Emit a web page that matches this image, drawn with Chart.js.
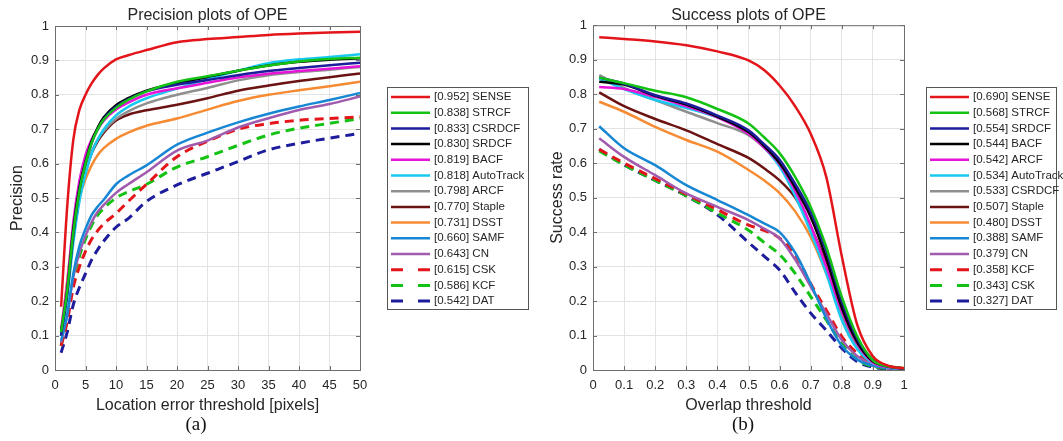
<!DOCTYPE html>
<html lang="en">
<head>
<meta charset="UTF-8">
<title>Precision and success plots of OPE</title>
<script src="https://cdn.jsdelivr.net/npm/chart.js"></script>
<style>
  body { margin: 0; background: #fff; }
  .panel { position: absolute; top: 0; height: 441px; }
  #leftPanel { left: 0; width: 531px; }
  #rightPanel { left: 531px; width: 532px; }
  .tag {
    position: absolute; top: 413px; width: 60px; text-align: center;
    font-family: "Liberation Serif", "Times New Roman", serif;
    font-size: 19px; line-height: 22px; color: #111;
  }
</style>
</head>
<body>
<div class="panel" id="leftPanel"><canvas id="precChart" width="531" height="441"></canvas></div>
<div class="panel" id="rightPanel"><canvas id="succChart" width="532" height="441"></canvas></div>
<div class="tag" style="left:166px">(a)</div>
<div class="tag" style="left:713px">(b)</div>

<script>
// ---- precision plot data (location error threshold in pixels) ----
const precThresholds = [1, 2, 3, 4, 5, 6, 7, 8, 10, 12, 15, 20, 25, 30, 35, 40, 45, 50];
const precXTicks = [0, 5, 10, 15, 20, 25, 30, 35, 40, 45, 50];
const precNames = ['SENSE', 'STRCF', 'CSRDCF', 'SRDCF', 'BACF', 'AutoTrack', 'ARCF', 'Staple', 'DSST', 'SAMF', 'CN', 'CSK', 'KCF', 'DAT'];
const precScores = [0.952, 0.838, 0.833, 0.830, 0.819, 0.818, 0.798, 0.770, 0.731, 0.660, 0.643, 0.615, 0.586, 0.542];

const precSENSE     = [0.184, 0.475, 0.669, 0.756, 0.800, 0.833, 0.858, 0.877, 0.903, 0.915, 0.930, 0.953, 0.962, 0.968, 0.974, 0.978, 0.981, 0.983];
const precSTRCF     = [0.11, 0.23, 0.40, 0.52, 0.600, 0.660, 0.700, 0.728, 0.762, 0.785, 0.810, 0.838, 0.854, 0.870, 0.885, 0.897, 0.904, 0.908];
const precCSRDCF    = [0.10, 0.22, 0.39, 0.52, 0.600, 0.660, 0.700, 0.730, 0.765, 0.787, 0.810, 0.829, 0.843, 0.857, 0.869, 0.878, 0.886, 0.893];
const precSRDCF     = [0.11, 0.23, 0.41, 0.53, 0.605, 0.665, 0.705, 0.735, 0.770, 0.790, 0.812, 0.833, 0.852, 0.870, 0.885, 0.896, 0.902, 0.906];
const precBACF      = [0.12, 0.25, 0.43, 0.55, 0.625, 0.670, 0.700, 0.725, 0.757, 0.777, 0.800, 0.819, 0.835, 0.850, 0.861, 0.869, 0.876, 0.883];
const precAutoTrack = [0.10, 0.21, 0.37, 0.49, 0.570, 0.630, 0.670, 0.700, 0.740, 0.765, 0.790, 0.818, 0.846, 0.870, 0.892, 0.903, 0.910, 0.918];
const precARCF      = [0.10, 0.22, 0.39, 0.51, 0.585, 0.635, 0.670, 0.695, 0.730, 0.752, 0.775, 0.800, 0.820, 0.842, 0.857, 0.866, 0.873, 0.881];
const precStaple    = [0.10, 0.23, 0.39, 0.50, 0.575, 0.630, 0.665, 0.690, 0.725, 0.742, 0.755, 0.771, 0.790, 0.812, 0.827, 0.840, 0.851, 0.862];
const precDSST      = [0.11, 0.26, 0.41, 0.50, 0.555, 0.595, 0.625, 0.645, 0.672, 0.690, 0.710, 0.731, 0.757, 0.782, 0.800, 0.813, 0.825, 0.838];
const precSAMF      = [0.085, 0.16, 0.28, 0.36, 0.410, 0.450, 0.475, 0.495, 0.540, 0.565, 0.595, 0.655, 0.690, 0.720, 0.745, 0.766, 0.785, 0.805];
const precCN        = [0.08, 0.16, 0.27, 0.34, 0.390, 0.430, 0.460, 0.480, 0.515, 0.540, 0.575, 0.638, 0.667, 0.705, 0.732, 0.756, 0.773, 0.795];
const precCSK       = [0.07, 0.14, 0.24, 0.30, 0.345, 0.380, 0.405, 0.425, 0.455, 0.490, 0.540, 0.620, 0.665, 0.700, 0.716, 0.726, 0.731, 0.736];
const precKCF       = [0.07, 0.15, 0.26, 0.33, 0.380, 0.420, 0.450, 0.470, 0.500, 0.518, 0.540, 0.590, 0.620, 0.653, 0.683, 0.703, 0.717, 0.731];
const precDAT       = [0.05, 0.11, 0.19, 0.24, 0.280, 0.320, 0.350, 0.375, 0.415, 0.440, 0.490, 0.538, 0.572, 0.606, 0.640, 0.659, 0.674, 0.688];
const precSeries = [precSENSE, precSTRCF, precCSRDCF, precSRDCF, precBACF, precAutoTrack, precARCF,
                    precStaple, precDSST, precSAMF, precCN, precCSK, precKCF, precDAT];

// ---- success plot data (overlap threshold) ----
const succThresholds = [0.02, 0.1, 0.2, 0.3, 0.4, 0.5, 0.55, 0.6, 0.65, 0.7, 0.75, 0.8, 0.85, 0.9, 0.95, 1];
const succXTicks = [0, 0.1, 0.2, 0.3, 0.4, 0.5, 0.6, 0.7, 0.8, 0.9, 1];
const succNames = ['SENSE', 'STRCF', 'SRDCF', 'BACF', 'ARCF', 'AutoTrack', 'CSRDCF', 'Staple', 'DSST', 'SAMF', 'CN', 'KCF', 'CSK', 'DAT'];
const succScores = [0.690, 0.568, 0.554, 0.544, 0.542, 0.534, 0.533, 0.507, 0.480, 0.388, 0.379, 0.358, 0.343, 0.327];

const succSENSE     = [0.965, 0.960, 0.953, 0.942, 0.924, 0.898, 0.870, 0.825, 0.765, 0.685, 0.560, 0.330, 0.130, 0.040, 0.012, 0.005];
const succSTRCF     = [0.848, 0.832, 0.810, 0.791, 0.757, 0.715, 0.675, 0.629, 0.560, 0.473, 0.357, 0.212, 0.097, 0.028, 0.010, 0.005];
const succSRDCF     = [0.848, 0.830, 0.797, 0.773, 0.738, 0.695, 0.655, 0.610, 0.540, 0.458, 0.345, 0.200, 0.090, 0.028, 0.010, 0.004];
const succBACF      = [0.836, 0.828, 0.795, 0.770, 0.735, 0.690, 0.650, 0.600, 0.530, 0.444, 0.325, 0.180, 0.080, 0.025, 0.010, 0.004];
const succARCF      = [0.821, 0.815, 0.792, 0.765, 0.733, 0.685, 0.645, 0.597, 0.520, 0.420, 0.300, 0.170, 0.075, 0.022, 0.008, 0.004];
const succAutoTrack = [0.845, 0.815, 0.783, 0.760, 0.733, 0.688, 0.645, 0.590, 0.505, 0.400, 0.280, 0.145, 0.060, 0.020, 0.007, 0.003];
const succCSRDCF    = [0.855, 0.818, 0.783, 0.749, 0.716, 0.681, 0.645, 0.595, 0.520, 0.410, 0.290, 0.160, 0.070, 0.022, 0.008, 0.004];
const succStaple    = [0.805, 0.765, 0.728, 0.695, 0.655, 0.615, 0.585, 0.550, 0.500, 0.415, 0.310, 0.190, 0.090, 0.030, 0.010, 0.005];
const succDSST      = [0.778, 0.749, 0.705, 0.667, 0.633, 0.580, 0.550, 0.513, 0.460, 0.386, 0.280, 0.160, 0.070, 0.030, 0.012, 0.006];
const succSAMF      = [0.707, 0.643, 0.594, 0.536, 0.493, 0.449, 0.425, 0.400, 0.340, 0.250, 0.150, 0.070, 0.030, 0.012, 0.005, 0.003];
const succCN        = [0.672, 0.618, 0.565, 0.512, 0.473, 0.435, 0.410, 0.382, 0.320, 0.242, 0.164, 0.087, 0.040, 0.015, 0.006, 0.003];
const succKCF       = [0.640, 0.600, 0.555, 0.510, 0.465, 0.420, 0.405, 0.382, 0.335, 0.250, 0.174, 0.097, 0.048, 0.015, 0.005, 0.002];
const succCSK       = [0.635, 0.595, 0.550, 0.505, 0.455, 0.405, 0.370, 0.335, 0.280, 0.213, 0.145, 0.077, 0.030, 0.010, 0.004, 0.002];
const succDAT       = [0.640, 0.595, 0.550, 0.505, 0.450, 0.370, 0.330, 0.290, 0.225, 0.165, 0.115, 0.063, 0.024, 0.008, 0.003, 0.002];
const succSeries = [succSENSE, succSTRCF, succSRDCF, succBACF, succARCF, succAutoTrack, succCSRDCF,
                    succStaple, succDSST, succSAMF, succCN, succKCF, succCSK, succDAT];

const yTicks = [0, 0.1, 0.2, 0.3, 0.4, 0.5, 0.6, 0.7, 0.8, 0.9, 1];

// colours go by rank, the same in both plots
const rankColors = ['#e3151b', '#14c214', '#1c1c9c', '#000000', '#e614d6', '#17c8f0', '#8f8f8f',
                    '#6b1212', '#f68b33', '#1787d4', '#a05aae', '#e3151b', '#14c214', '#1c1c9c'];
const rankDashed = [false, false, false, false, false, false, false, false, false, false, false, true, true, true];

const FONT = '"Liberation Sans", Arial, sans-serif';
const TEXT = '#262626';
const BOX = '#6e6e6e';
Chart.defaults.font.family = FONT;
Chart.defaults.color = TEXT;

// axes box on all four sides with inward tick marks, like MATLAB
const axesFrame = {
    id: 'axesFrame',
    afterDatasetsDraw(chart) {
        const { ctx, chartArea: a, scales: { x, y } } = chart;
        ctx.save();
        ctx.strokeStyle = BOX;
        ctx.lineWidth = 1;
        ctx.strokeRect(a.left + 0.5, a.top + 0.5, a.right - a.left, a.bottom - a.top);
        ctx.beginPath();
        x.ticks.forEach(t => {
            const px = Math.round(x.getPixelForValue(t.value)) + 0.5;
            ctx.moveTo(px, a.bottom); ctx.lineTo(px, a.bottom - 4);
            ctx.moveTo(px, a.top); ctx.lineTo(px, a.top + 4);
        });
        y.ticks.forEach(t => {
            const py = Math.round(y.getPixelForValue(t.value)) + 0.5;
            ctx.moveTo(a.left, py); ctx.lineTo(a.left + 4, py);
            ctx.moveTo(a.right, py); ctx.lineTo(a.right - 4, py);
        });
        ctx.stroke();
        ctx.restore();
    }
};

// boxed legend to the right of the axes
const boxLegend = {
    id: 'boxLegend',
    afterDraw(chart, args, o) {
        const ctx = chart.ctx;
        ctx.save();
        ctx.fillStyle = '#fff';
        ctx.fillRect(o.left, o.top, o.width, o.height);
        ctx.strokeStyle = '#555';
        ctx.lineWidth = 1;
        ctx.strokeRect(o.left + 0.5, o.top + 0.5, o.width, o.height);
        ctx.font = '11.5px ' + FONT;
        ctx.textBaseline = 'middle';
        chart.data.datasets.forEach((ds, i) => {
            const y = o.top + o.firstRow + i * o.rowH;
            ctx.strokeStyle = ds.borderColor;
            ctx.lineWidth = ds.borderWidth;
            ctx.setLineDash(ds.borderDash.length ? [12, 15] : []);
            ctx.beginPath();
            ctx.moveTo(o.left + 4, y);
            ctx.lineTo(o.left + 43, y);
            ctx.stroke();
            ctx.setLineDash([]);
            ctx.fillStyle = TEXT;
            ctx.fillText(ds.label, o.left + 47, y);
        });
        ctx.restore();
    }
};

function buildDatasets(names, scores, series, xs) {
    return names.map((name, i) => ({
        label: '[' + scores[i].toFixed(3) + '] ' + name,
        data: xs.map((x, k) => ({ x: x, y: series[i][k] })),
        borderColor: rankColors[i],
        borderWidth: rankDashed[i] ? 3 : 2.5,
        borderDash: rankDashed[i] ? [9, 6] : [],
        pointRadius: 0,
        fill: false,
        cubicInterpolationMode: 'monotone'
    }));
}

function makeChart(id, cfg) {
    new Chart(document.getElementById(id), {
        type: 'line',
        data: { datasets: buildDatasets(cfg.names, cfg.scores, cfg.series, cfg.xs) },
        options: {
            responsive: false,
            animation: false,
            layout: { padding: { left: 0, right: cfg.padRight, top: 0, bottom: 0 } },
            plugins: {
                legend: { display: false },
                tooltip: { enabled: false },
                title: {
                    display: true, text: cfg.title, fullSize: false, color: TEXT,
                    font: { size: 16, weight: 'normal' },
                    padding: { top: 6, bottom: cfg.titleGap }
                },
                boxLegend: cfg.legend
            },
            scales: {
                x: {
                    type: 'linear', min: cfg.xMin, max: cfg.xMax,
                    afterBuildTicks: s => { s.ticks = cfg.xTicks.map(v => ({ value: v })); },
                    afterFit: s => { s.height = 71; },
                    grid: { color: '#e3e3e3', drawTicks: false },
                    border: { color: BOX },
                    ticks: { padding: 8, autoSkip: false, maxRotation: 0, font: { size: 13 }, callback: v => String(v) },
                    title: { display: true, text: cfg.xTitle, font: { size: 16 }, padding: { top: 0, bottom: 26 } }
                },
                y: {
                    type: 'linear', min: 0, max: 1,
                    afterBuildTicks: s => { s.ticks = yTicks.map(v => ({ value: v })); },
                    afterFit: s => { s.width = cfg.yWidth; },
                    grid: { color: '#e3e3e3', drawTicks: false },
                    border: { color: BOX },
                    ticks: { padding: 6, autoSkip: false, font: { size: 13 }, callback: v => String(v) },
                    title: { display: true, text: cfg.yTitle, font: { size: 16 }, padding: { top: cfg.yTitlePad, bottom: 0 } }
                }
            }
        },
        plugins: [axesFrame, boxLegend]
    });
}

makeChart('precChart', {
    names: precNames, scores: precScores, series: precSeries, xs: precThresholds,
    xTicks: precXTicks, xMin: 0, xMax: 50,
    title: 'Precision plots of OPE',
    xTitle: 'Location error threshold [pixels]', yTitle: 'Precision',
    padRight: 171, yWidth: 55, yTitlePad: 8, titleGap: 0.8,
    legend: { left: 387, top: 87, width: 141, height: 222, firstRow: 10, rowH: 15.7 }
});

makeChart('succChart', {
    names: succNames, scores: succScores, series: succSeries, xs: succThresholds,
    xTicks: succXTicks, xMin: 0, xMax: 1,
    title: 'Success plots of OPE',
    xTitle: 'Overlap threshold', yTitle: 'Success rate',
    padRight: 159, yWidth: 62, yTitlePad: 17, titleGap: 0,
    legend: { left: 395, top: 87, width: 130, height: 222, firstRow: 10, rowH: 15.7 }
});
</script>
</body>
</html>
